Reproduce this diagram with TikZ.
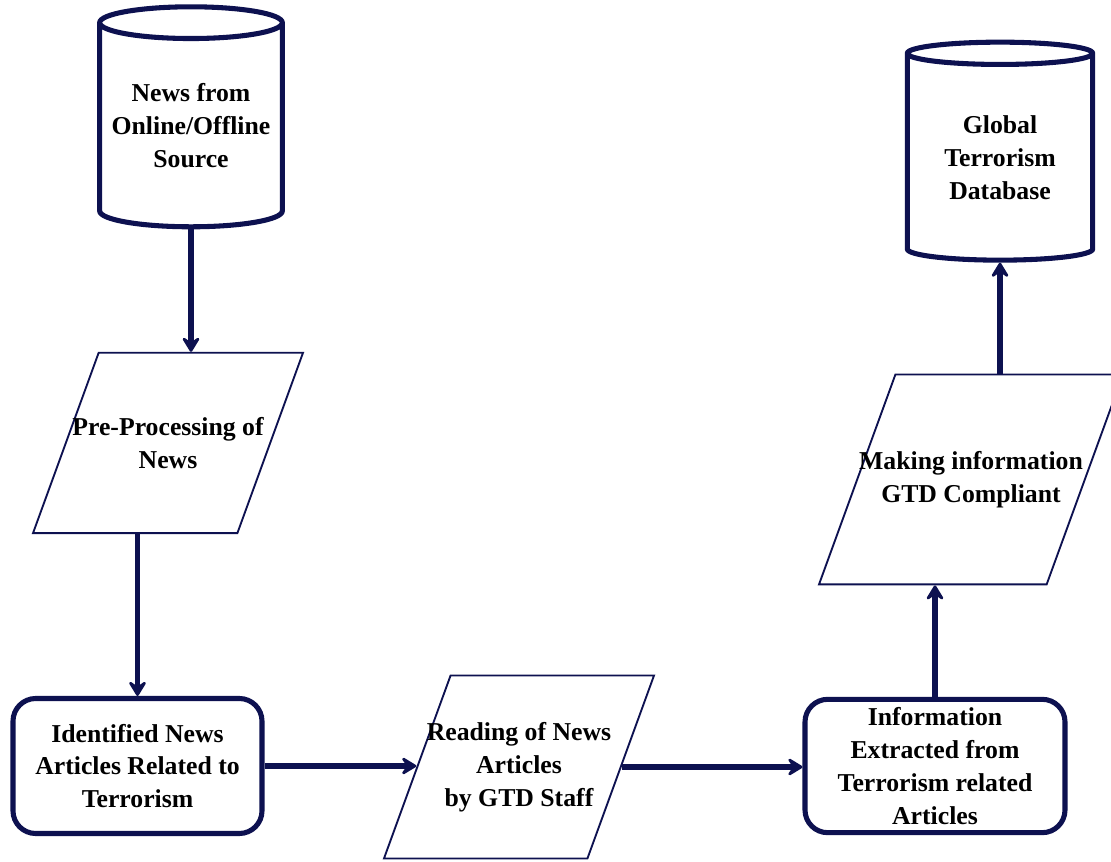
\documentclass[tikz,border=0pt]{standalone}
\usepackage{fontspec}
\setmainfont{Liberation Serif}
\usetikzlibrary{arrows.meta,positioning,shapes.geometric}
\definecolor{Navy}{HTML}{0D1150}

\begin{document}
\begin{tikzpicture}[x=0.75pt,y=-0.75pt,>={Stealth[length=14pt,width=17pt,inset=6pt,round]},
    lbl/.style={font=\fontsize{19.3}{24.7}\selectfont\bfseries,align=center,inner sep=0pt},
    dbase/.style={lbl,cylinder,shape border rotate=90,draw=Navy,line width=3.8pt,aspect=0.2,minimum width=137pt,minimum height=165pt},
    iobox/.style={lbl,trapezium,trapezium left angle=70,trapezium right angle=110,trapezium stretches body,inner xsep=-60pt,draw=Navy,line width=1.4pt},
    stepbox/.style={lbl,draw=Navy,line width=3.8pt,rounded corners=17pt},
    flow/.style={->,Navy,line width=3.8pt}]
    \useasboundingbox (0,0) rectangle (1111,862);
    \node[dbase] (src) at (191,126) {News from\\Online/Offline\\Source};
    \node[iobox,minimum width=202.5pt,inner ysep=48.4pt] (pre) at (168,443) {Pre-Processing of\\News};
    \node[stepbox,minimum width=186.75pt,minimum height=101.25pt] (ident) at (137.5,766) {Identified News\\Articles Related to\\Terrorism};
    \node[iobox,minimum width=202.5pt,inner ysep=35pt] (read) at (519,767) {Reading of News\\Articles\\by GTD Staff};
    \node[stepbox,minimum width=195pt,minimum height=100pt] (info) at (935,766) {Information\\Extracted from\\Terrorism related\\Articles};
    \node[iobox,minimum width=228pt,inner ysep=57.5pt] (gtdc) at (971,479.5) {Making information\\GTD Compliant};
    \node[dbase,minimum width=139pt,minimum height=163.5pt] (gtd) at (1000,158) {Global\\Terrorism\\Database};
    \draw[flow] (src.south) -- (src.south |- pre.north);
    \draw[flow] (ident.north |- pre.south) -- (ident.north);
    \draw[flow] (ident.east) -- (ident.east -| read.west);
    \draw[flow] (read.east) -- (read.east -| info.west);
    \draw[flow] (info.north) -- (info.north |- gtdc.south);
    \draw[flow] (gtd.south |- gtdc.north) -- (gtd.south);
\end{tikzpicture}
\end{document}
